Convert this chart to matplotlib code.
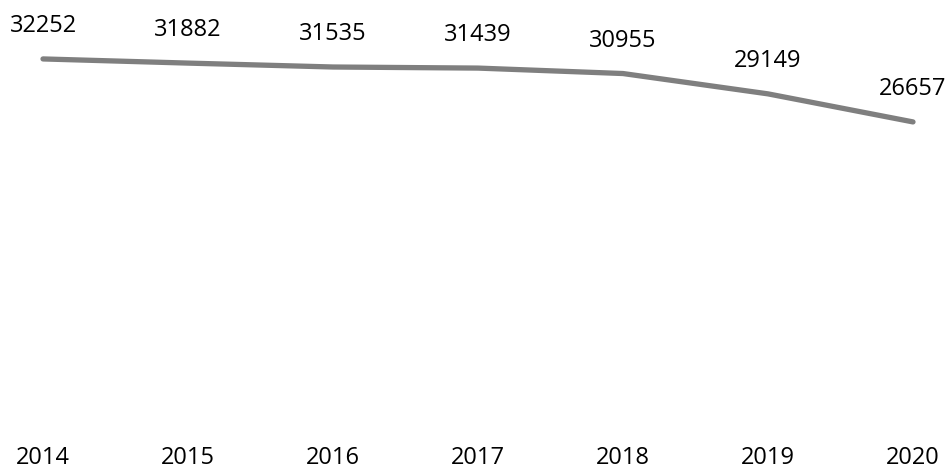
import matplotlib
matplotlib.use("Agg")
import matplotlib.pyplot as plt

years = [2014, 2015, 2016, 2017, 2018, 2019, 2020]
values = [32252, 31882, 31535, 31439, 30955, 29149, 26657]

plt.rcParams['font.family'] = ['Open Sans', 'DejaVu Sans']

fig = plt.figure(figsize=(9.46, 4.69), dpi=100)
ax = fig.add_axes([43/946, 47/469, 870/946, 394/469])
ax.plot(years, values, color='#7f7f7f', linewidth=3.8, solid_capstyle='round',
        solid_joinstyle='round', clip_on=False)
ax.set_xlim(2014, 2020)
ax.set_ylim(0, 35000)
ax.axis('off')

for x, v in zip(years, values):
    ax.annotate(str(v), xy=(x, v), xytext=(0, 33), textcoords='offset pixels',
                ha='center', va='center', fontsize=17, color='black')
    ax.annotate(str(x), xy=(x, 0), xytext=(0, -36), textcoords='offset pixels',
                ha='center', va='center', fontsize=17, color='black')

fig.savefig('out.png', dpi=100)
